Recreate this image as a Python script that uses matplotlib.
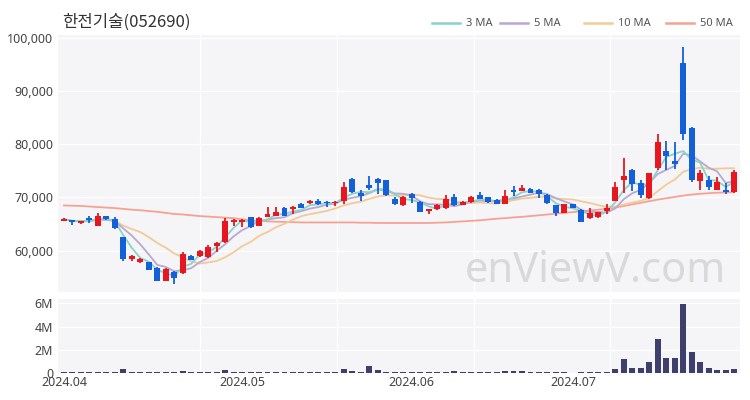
import matplotlib
matplotlib.use('Agg')
import matplotlib.pyplot as plt
import numpy as np
import pandas as pd

title = '한전기술(052690)'
holidays = ['2024-04-10', '2024-05-01', '2024-05-06', '2024-05-15', '2024-06-06']
dates = pd.bdate_range('2024-04-01', '2024-07-26')
dates = dates[~dates.isin(pd.to_datetime(holidays))]

opens = [65600, 65700, 65200, 66200, 64700, 66500, 66000, 62500, 58400, 57900,
         57800, 56800, 54300, 56000, 55700, 59000, 58900, 58800, 60900, 61600,
         65400, 65300, 66300, 64700, 66400, 66600, 68100, 67900, 68800, 68900,
         69300, 69200, 68900, 69300, 73500, 70800, 72400, 73500, 73200, 69800,
         68500, 70700, 69200, 67400, 67900, 68000, 70000, 68600, 69100, 70400,
         70000, 69600, 68800, 71500, 71300, 71600, 71500, 70500, 68500, 67100,
         68700, 67700, 66100, 66300, 67400, 69400, 73200, 75200, 72700, 69900,
         75600, 78700, 76900, 95300, 83100, 73100, 73300, 71500, 71500, 71000]
highs = [66100, 65800, 65600, 66600, 67000, 66600, 66300, 62600, 59200, 58600,
         57900, 57000, 56800, 56100, 59700, 59100, 60200, 61100, 61700, 66200,
         65900, 65900, 66400, 66300, 68200, 68200, 68200, 68400, 68900, 69500,
         69800, 69300, 69300, 72900, 73600, 71400, 74100, 73700, 73300, 70000,
         70200, 70800, 69300, 67900, 68700, 70400, 70600, 69300, 70200, 71100,
         70100, 69700, 71500, 72200, 72400, 71700, 71600, 70700, 68600, 68800,
         68800, 67800, 68100, 67300, 68800, 72900, 77500, 75300, 73200, 74700,
         81900, 80700, 80400, 98300, 83300, 75100, 74100, 73800, 72800, 75200]
lows = [65500, 64900, 65100, 65200, 64600, 65800, 64100, 58000, 58100, 57700,
        56300, 54200, 54200, 53700, 55600, 58200, 58800, 58600, 59800, 61500,
        64600, 64500, 64300, 64600, 66300, 66500, 66500, 66900, 68000, 68800,
        68600, 68300, 68400, 68700, 70900, 69300, 71500, 70700, 70300, 68500,
        68400, 69000, 67200, 66800, 67700, 67900, 68400, 68500, 69000, 69700,
        69000, 68700, 68700, 70300, 71200, 70800, 69900, 68800, 66600, 67000,
        68000, 65300, 66000, 66200, 66900, 69300, 70800, 71300, 69900, 69800,
        75200, 75100, 75400, 80900, 72900, 71500, 71500, 71400, 70700, 70900]
closes = [65900, 65300, 65500, 65700, 66600, 65900, 64200, 58500, 58900, 58400,
          56400, 54300, 56600, 54800, 59400, 58300, 60000, 60600, 61500, 65500,
          65800, 65800, 64500, 66200, 66900, 67200, 66600, 68300, 68100, 69300,
          68700, 68900, 69200, 71900, 71000, 70300, 71700, 72700, 70400, 68700,
          70000, 69900, 67300, 67800, 68500, 69700, 68500, 69100, 70000, 69800,
          69100, 68800, 70300, 71000, 71700, 70900, 70700, 68900, 67100, 68700,
          68100, 65400, 67000, 67200, 68100, 72000, 74100, 72600, 70400, 74600,
          80400, 77900, 76400, 81900, 73200, 74600, 72000, 72900, 71000, 74800]
volumes_m = [0.10, 0.08, 0.08, 0.10, 0.12, 0.10, 0.12, 0.35, 0.12, 0.10,
             0.12, 0.15, 0.15, 0.12, 0.20, 0.10, 0.10, 0.12, 0.10, 0.30,
             0.12, 0.10, 0.10, 0.12, 0.10, 0.15, 0.10, 0.10, 0.12, 0.10,
             0.10, 0.08, 0.10, 0.35, 0.17, 0.10, 0.60, 0.25, 0.15, 0.10,
             0.10, 0.10, 0.08, 0.10, 0.08, 0.10, 0.18, 0.10, 0.15, 0.08,
             0.08, 0.08, 0.17, 0.18, 0.18, 0.10, 0.10, 0.10, 0.08, 0.08,
             0.05, 0.10, 0.08, 0.08, 0.08, 0.34, 1.20, 0.48, 0.48, 1.00,
             2.90, 1.34, 1.34, 5.94, 1.85, 0.94, 0.48, 0.26, 0.26, 0.37]
ma50 = [68500, 68450, 68400, 68300, 68200, 68100, 68000, 67850, 67700, 67600,
        67450, 67300, 67100, 66900, 66800, 66650, 66500, 66400, 66300, 66200,
        66100, 65900, 65700, 65600, 65500, 65450, 65400, 65350, 65300, 65300,
        65300, 65300, 65300, 65300, 65300, 65250, 65250, 65200, 65200, 65200,
        65200, 65200, 65200, 65200, 65250, 65300, 65400, 65500, 65600, 65700,
        65850, 66000, 66100, 66250, 66350, 66500, 66650, 66800, 66950, 67100,
        67250, 67400, 67550, 67700, 67850, 68100, 68400, 68700, 69000, 69300,
        69600, 69850, 70100, 70350, 70550, 70700, 70800, 70900, 70950, 71000]

df = pd.DataFrame({'open': opens, 'high': highs, 'low': lows, 'close': closes,
                   'vol': np.array(volumes_m) * 1e6, 'ma50': ma50}, index=dates)
df['ma3'] = df['close'].rolling(3, min_periods=1).mean()
df['ma5'] = df['close'].rolling(5, min_periods=1).mean()
df['ma10'] = df['close'].rolling(10, min_periods=1).mean()

UP = '#e8161e'
DOWN = '#1460d9'
BG = '#f5f5f7'
C3, C5, C10, C50 = '#86d4ca', '#b9a8d2', '#f3ca97', '#f7a192'

x = np.arange(len(df))
fig = plt.figure(figsize=(7.5, 4), dpi=100)
ax = fig.add_axes([58/750, 1-292/400, 682/750, 257/400])
axv = fig.add_axes([58/750, 1-373.3/400, 682/750, 74.3/400])

for a in (ax, axv):
    a.set_facecolor(BG)
    for s in a.spines.values():
        s.set_visible(False)
    a.tick_params(length=0, labelsize=9, colors='#444444')
    a.set_xlim(-0.7, len(df) - 0.3)
    for gx in [16.0, 32.2, 48.3, 64.4]:
        a.axvline(gx, color='white', lw=1, zorder=0)

# price grid
for gy in [60000, 70000, 80000, 90000, 100000]:
    ax.axhline(gy, color='white', lw=1, zorder=0)

# MA lines
ax.plot(x, df['ma50'], color=C50, lw=1.3, zorder=1)
ax.plot(x, df['ma10'], color=C10, lw=1.3, zorder=1)
ax.plot(x, df['ma5'], color=C5, lw=1.3, zorder=1)
ax.plot(x, df['ma3'], color=C3, lw=1.3, zorder=1)

# candles
up = df['close'] >= df['open']
cols = np.where(up, UP, DOWN)
ax.vlines(x, df['low'], df['high'], colors=cols, lw=1.3, zorder=2)
body_bot = np.minimum(df['open'], df['close'])
body_h = np.maximum(np.abs(df['close'] - df['open']), 150)
ax.bar(x, body_h, bottom=body_bot, width=0.7, color=cols, zorder=3, linewidth=0)

ax.set_ylim(52200, 100600)
ax.set_yticks([60000, 70000, 80000, 90000, 100000])
ax.set_yticklabels([f'{v:,}' for v in [60000, 70000, 80000, 90000, 100000]])
ax.set_xticks([])

# volume
for gy in [2e6, 4e6, 6e6]:
    axv.axhline(gy, color='white', lw=1, zorder=0)
axv.bar(x, df['vol'], width=0.7, color='#3f3f6e', zorder=2, linewidth=0)
axv.set_ylim(0, 6.37e6)
axv.set_yticks([0, 2e6, 4e6, 6e6])
axv.set_yticklabels(['0', '2M', '4M', '6M'])
months = df.index.to_period('M')
first_idx = [i for i in range(len(df)) if i == 0 or months[i] != months[i-1]]
axv.set_xticks(first_idx)
axv.set_xticklabels([df.index[i].strftime('%Y.%m') for i in first_idx])
axv.tick_params(axis='x', pad=2)

for a in (ax, axv):
    for lab in a.get_yticklabels() + a.get_xticklabels():
        lab.set_fontfamily('Noto Sans')

# title
fig.text(62/750, 1-22/400, title, fontsize=12, color='#333333', va='center',
         fontfamily=['Noto Sans CJK KR', 'DejaVu Sans'])

# legend
leg = [('3 MA', C3, 432), ('5 MA', C5, 500), ('10 MA', C10, 584), ('50 MA', C50, 666)]
ly = 1 - 23/400
for lab, c, x0 in leg:
    fig.add_artist(plt.Line2D([x0/750, (x0+28)/750], [ly, ly], color=c, lw=1.8,
                              transform=fig.transFigure))
    fig.text((x0+34)/750, ly, lab, fontsize=8, color='#555555', va='center',
             fontfamily='Noto Sans')

# watermark
fig.text(595/750, 1-271/400, 'enViewV.com', fontsize=30, color='#d4d4d4',
         ha='center', va='center', fontfamily='Noto Sans', alpha=0.85, zorder=5)

fig.savefig('out.png', dpi=100, facecolor='white')
